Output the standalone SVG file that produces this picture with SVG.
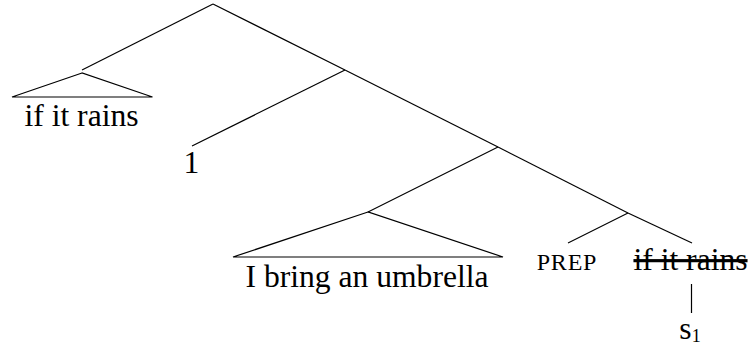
<svg xmlns="http://www.w3.org/2000/svg" width="754" height="347" viewBox="0 0 754 347">
<style>
  .t { font-family: "Liberation Serif", "Times New Roman", serif; font-size: 31.6px; fill: #000; text-anchor: middle; }
  .sc { font-family: "Liberation Serif", "Times New Roman", serif; font-size: 24px; fill: #000; text-anchor: middle; letter-spacing: 0.8px; }
  .e { stroke: #000; stroke-width: 1.2; fill: none; }
</style>
<rect width="754" height="347" fill="#fff"/>
<g id="connectors" class="e">
  <line x1="213" y1="4" x2="82" y2="70"/>
  <line x1="213" y1="4" x2="345" y2="70"/>
  <line x1="345" y1="70" x2="192" y2="146"/>
  <line x1="345" y1="70" x2="498" y2="147"/>
  <line x1="498" y1="147" x2="368" y2="212"/>
  <line x1="498" y1="147" x2="628" y2="213"/>
  <line x1="628" y1="213" x2="568" y2="243"/>
  <line x1="628" y1="213" x2="692" y2="243"/>
  <line x1="691.5" y1="284" x2="691.5" y2="313"/>
</g>
<g id="n-if-it-rains-1">
  <polygon class="e" points="82,73 12,97 152.5,97"/>
  <text class="t" x="81.5" y="126">if it rains</text>
</g>
<g id="n-1">
  <text class="t" x="191.5" y="173">1</text>
</g>
<g id="n-umbrella">
  <polygon class="e" points="368,212 233,257 503,257"/>
  <text class="t" x="367" y="287">I bring an umbrella</text>
</g>
<g id="n-prep">
  <text class="sc" x="567" y="270">PREP</text>
</g>
<g id="n-if-it-rains-2">
  <text class="t" x="690.5" y="270" text-decoration="line-through">if it rains</text>
</g>
<g id="n-s1">
  <text class="t" x="690" y="339">s<tspan font-size="18" dy="3">1</tspan></text>
</g>
</svg>
